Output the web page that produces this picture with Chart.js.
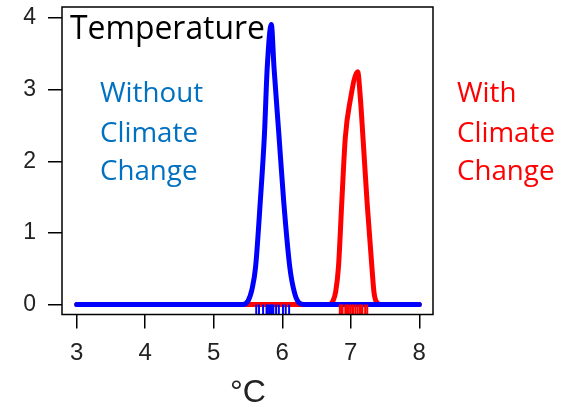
<!DOCTYPE html>
<html>
<head>
<meta charset="utf-8">
<script src="https://cdn.jsdelivr.net/npm/chart.js@4.4.1/dist/chart.umd.min.js"></script>
<style>
  html, body { margin: 0; padding: 0; background: #fff; }
  #wrap { width: 566px; height: 407px; }
</style>
</head>
<body>
<div id="wrap"><canvas id="chart"></canvas></div>
<script>
// density curves, [°C, density]
const withoutCurve = [
  [3, 0], [5.42, 0], [5.5, 0.05], [5.56, 0.22], [5.61, 0.52], [5.68, 1.45],
  [5.74, 2.38], [5.78, 3.3], [5.84, 3.91], [5.88, 3.3], [5.95, 2.38],
  [6.02, 1.45], [6.11, 0.52], [6.18, 0.16], [6.25, 0.02], [6.32, 0], [8, 0]
];
const withCurve = [
  [3, 0], [6.68, 0], [6.74, 0.05], [6.78, 0.18], [6.82, 0.52], [6.87, 1.45],
  [6.92, 2.33], [6.99, 2.84], [7.1, 3.25], [7.14, 2.88], [7.18, 2.3],
  [7.24, 1.4], [7.31, 0.5], [7.34, 0.16], [7.39, 0.02], [7.45, 0], [8, 0]
];
// rug marks (individual samples)
const withoutRug = [5.62, 5.66, 5.72, 5.77, 5.79, 5.81, 5.83, 5.85, 5.87, 5.91, 5.95, 6.01, 6.05, 6.10];
const withRug = [6.84, 6.86, 6.88, 6.92, 6.94, 6.96, 6.99, 7.02, 7.04, 7.07, 7.10, 7.13, 7.15, 7.17, 7.21, 7.24];

const xTicks = [3, 4, 5, 6, 7, 8];
const yTicks = [0, 1, 2, 3, 4];

const toXY = (arr) => arr.map((p) => ({ x: p[0], y: p[1] }));
const rugY = -0.07;

const labels = {
  id: "labels",
  afterDraw(chart) {
    const ctx = chart.ctx;
    const area = chart.chartArea;
    ctx.save();
    ctx.lineWidth = 1.5;
    ctx.strokeStyle = "#000";
    ctx.strokeRect(area.left, area.top, area.right - area.left, area.bottom - area.top);

    ctx.textAlign = "left";
    ctx.textBaseline = "alphabetic";
    // fit font to measured width
    const fit = (text, target, family) => {
      ctx.font = "20px " + family;
      return 20 * target / ctx.measureText(text).width;
    };
    let size = fit("Temperature", 195, "'Open Sans'");
    ctx.font = size + "px 'Open Sans'";
    ctx.fillStyle = "#000";
    ctx.fillText("Temperature", 70, 39);

    size = fit("Climate", 98, "'Open Sans'");
    ctx.font = size + "px 'Open Sans'";
    ctx.fillStyle = "#0070C0";
    ctx.fillText("Without", 100, 102);
    ctx.fillText("Climate", 100, 142);
    ctx.fillText("Change", 100, 180);
    ctx.fillStyle = "#FF0000";
    ctx.fillText("With", 457, 102);
    ctx.fillText("Climate", 457, 142);
    ctx.fillText("Change", 457, 180);

    ctx.fillStyle = "#222";
    ctx.textAlign = "center";
    ctx.font = "32px 'Liberation Sans'";
    ctx.fillText("°C", 248, 402);
    ctx.restore();
  }
};

// Chart.js paints the first dataset on top, so blue goes first
new Chart(document.getElementById("chart"), {
  type: "scatter",
  data: {
    datasets: [
      {
        data: withoutRug.map((v) => ({ x: v, y: rugY })),
        pointStyle: "line",
        rotation: 90,
        pointRadius: 5,
        borderWidth: 2,
        borderColor: "#0000FF"
      },
      {
        data: withRug.map((v) => ({ x: v, y: rugY })),
        pointStyle: "line",
        rotation: 90,
        pointRadius: 5,
        borderWidth: 2,
        borderColor: "#FF0000"
      },
      {
        data: toXY(withoutCurve),
        showLine: true,
        borderColor: "#0000FF",
        borderWidth: 5,
        pointRadius: 0,
        cubicInterpolationMode: "monotone",
        borderCapStyle: "round",
        borderJoinStyle: "round"
      },
      {
        data: toXY(withCurve),
        showLine: true,
        borderColor: "#FF0000",
        borderWidth: 5,
        pointRadius: 0,
        cubicInterpolationMode: "monotone",
        borderCapStyle: "round",
        borderJoinStyle: "round"
      }
    ]
  },
  options: {
    responsive: true,
    maintainAspectRatio: false,
    animation: false,
    events: [],
    layout: { padding: { left: 0, top: 5, right: 133, bottom: 0 } },
    plugins: {
      legend: { display: false },
      tooltip: { enabled: false }
    },
    scales: {
      x: {
        type: "linear",
        min: 2.785,
        max: 8.2,
        afterBuildTicks: (scale) => {
          scale.ticks = xTicks.map((v) => ({ value: v }));
        },
        afterFit: (scale) => {
          scale.height = 92.5;
          scale.paddingLeft = 0;
          scale.paddingRight = 0;
        },
        border: { display: false },
        grid: {
          drawOnChartArea: false,
          drawTicks: true,
          tickLength: 14,
          color: "#000",
          lineWidth: 1.5
        },
        ticks: {
          color: "#222",
          padding: 10,
          maxRotation: 0,
          font: { family: "'Liberation Sans'", size: 24 }
        }
      },
      y: {
        min: -0.139,
        max: 4.153,
        afterBuildTicks: (scale) => {
          scale.ticks = yTicks.map((v) => ({ value: v }));
        },
        afterFit: (scale) => {
          scale.width = 62;
          scale.paddingTop = 0;
          scale.paddingBottom = 0;
        },
        border: { display: false },
        grid: {
          drawOnChartArea: false,
          drawTicks: true,
          tickLength: 14,
          color: "#000",
          lineWidth: 1.5
        },
        ticks: {
          color: "#222",
          padding: 12,
          font: { family: "'Liberation Sans'", size: 23 }
        }
      }
    }
  },
  plugins: [labels]
});
</script>
</body>
</html>
